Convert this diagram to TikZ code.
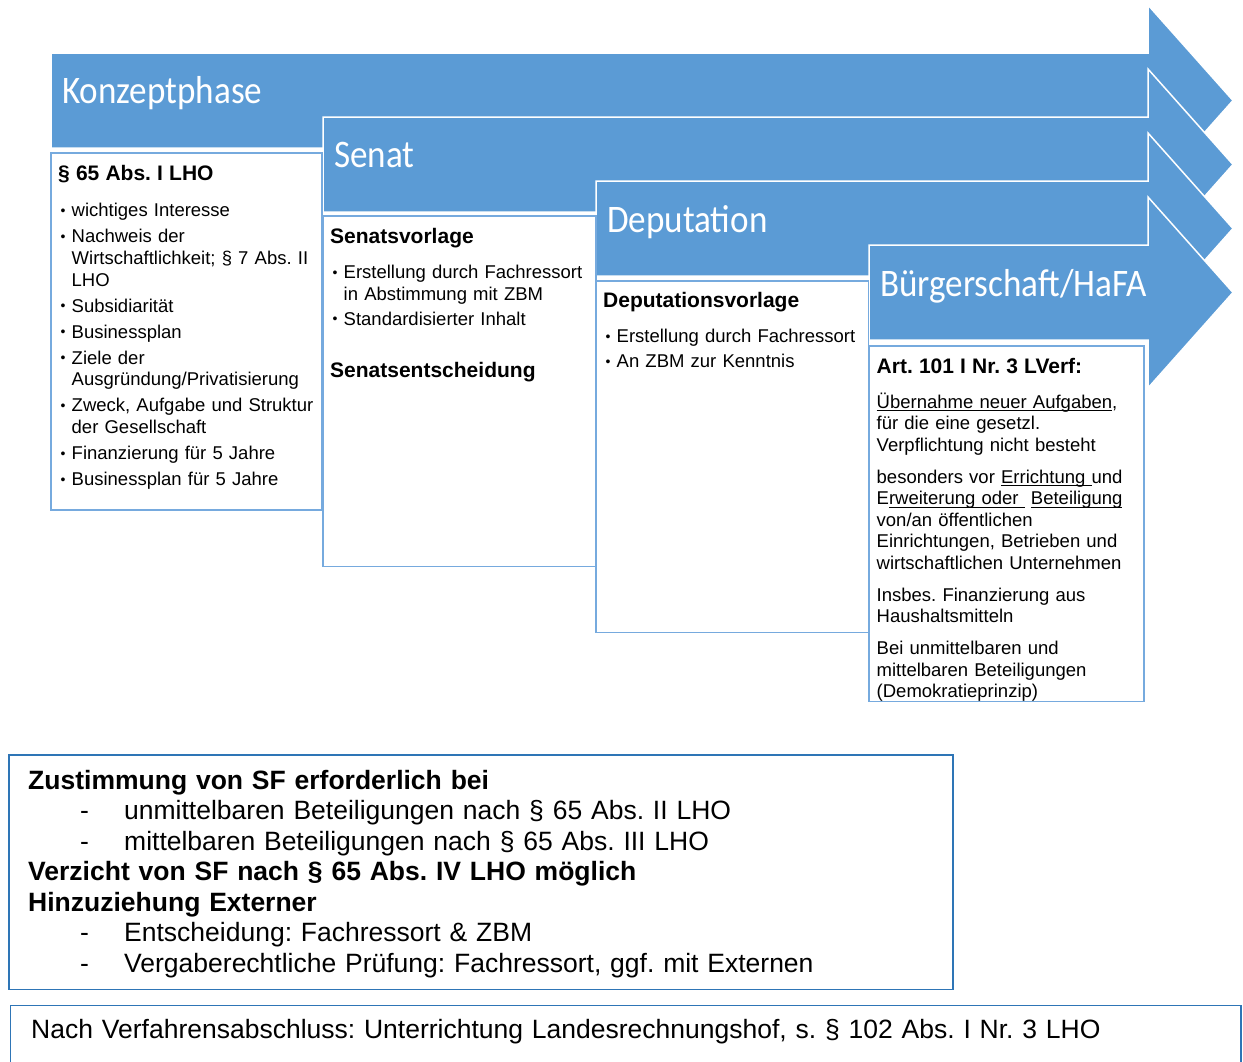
\documentclass[tikz,border=0pt]{standalone}
\usepackage{fontspec}
\setmainfont{Liberation Sans}
\newfontfamily\titlefont[FakeStretch=0.9]{Carlito}
\AtBeginDocument{\frenchspacing}
\definecolor{arrowblue}{RGB}{91,155,213}
\definecolor{boxblue}{RGB}{118,170,222}
\definecolor{frameblue}{RGB}{46,117,182}
\newlength\itemgap
\setlength\itemgap{3.5pt}
\newcommand\nl{\hfil\break}
\newcommand\bhead[1]{\noindent{\bfseries\fontsize{21}{21.5}\selectfont #1\par}\vspace{10pt}}
\newcommand\bheadafter[1]{\par\vspace{31pt}\noindent{\bfseries\fontsize{21}{21.5}\selectfont #1\par}}
\newcommand\bitem[1]{\par\vspace{\itemgap}\hangindent=13.5pt\hangafter=1\noindent\hbox to 13.5pt{\kern2.5pt\raisebox{1.5pt}{\fontsize{14}{14}\selectfont •}\hfil}#1\par}
\newcommand\bpar[1]{\par\vspace{10.5pt}\noindent #1\par}
\newcommand\ulx[1]{\setbox0\hbox{#1}\rlap{\rule[-2.8pt]{\wd0}{0.7pt}}\box0}
\newcommand\dashline[1]{\par\noindent\hbox to 96pt{\hskip52pt-\hfil}#1}
\tikzset{
  phase/.style={fill=arrowblue, draw=white, line width=1.5pt, line join=miter},
  phasetitle/.style={anchor=base west, inner sep=0pt, text=white, font=\titlefont\fontsize{39}{39}\selectfont},
  infobox/.style={draw=boxblue, line width=1.3pt},
  framebox/.style={draw=frameblue, line width=1.6pt},
  boxtext/.style={anchor=base west, inner sep=0pt, text width=#1, font=\frenchspacing\fontsize{18.5}{21.5}\selectfont},
  bigtext/.style={anchor=base west, inner sep=0pt, text width=#1, font=\frenchspacing\fontsize{26.5}{30.5}\selectfont}
}
\begin{document}
\begin{tikzpicture}[x=1pt,y=-1pt]
\useasboundingbox (0,0) rectangle (1243,1061);
% phase arrows
\draw[phase] (51,53) -- (1148,53) -- (1148,5) -- (1233,100.5) -- (1148,196) -- (1148,148) -- (51,148) -- cycle;
\draw[phase] (323,117) -- (1148,117) -- (1148,69) -- (1233,164.5) -- (1148,260) -- (1148,212) -- (323,212) -- cycle;
\draw[phase] (596,181) -- (1148,181) -- (1148,133) -- (1233,228.5) -- (1148,324) -- (1148,276) -- (596,276) -- cycle;
\draw[phase] (869,245) -- (1148,245) -- (1148,197) -- (1233,292.5) -- (1148,388) -- (1148,340) -- (869,340) -- cycle;
\node[phasetitle] (t1) at (62,103) {Konzeptphase};
\node[phasetitle] (t2) at (334,167) {Senat};
\node[phasetitle] (t3) at (607,232) {Deputation};
\node[phasetitle] (t4) at (880,296) {Bürgerschaft/HaFA};
% boxes
\draw[infobox] (51,153) rectangle (322,510);
\draw[infobox] (323,216) rectangle (596,566.5);
\draw[infobox] (596,281) rectangle (868.5,632.5);
\draw[infobox] (869,346) rectangle (1144,701.5);
\node[boxtext=300pt] (b1) at (58,180.7) {\setlength\itemgap{4.3pt}\fontsize{18.5}{21.7}\selectfont\bhead{§ 65 Abs. I LHO}%
\bitem{wichtiges Interesse}%
\bitem{Nachweis der\nl Wirtschaftlichkeit; § 7 Abs. II\nl LHO}%
\bitem{Subsidiarität}%
\bitem{Businessplan}%
\bitem{Ziele der\nl Ausgründung/Privatisierung}%
\bitem{Zweck, Aufgabe und Struktur\nl der Gesellschaft}%
\bitem{Finanzierung für 5 Jahre}%
\bitem{Businessplan für 5 Jahre}};
\node[boxtext=300pt] (b2) at (330,243.5) {\bhead{Senatsvorlage}%
\bitem{Erstellung durch Fachressort\nl in Abstimmung mit ZBM}%
\bitem{Standardisierter Inhalt}%
\bheadafter{Senatsentscheidung}};
\node[boxtext=300pt] (b3) at (603,307.5) {\bhead{Deputationsvorlage}%
\bitem{Erstellung durch Fachressort}%
\bitem{An ZBM zur Kenntnis}};
\node[boxtext=300pt] (b4) at (876.5,373.3) {\noindent{\bfseries\fontsize{21}{21.5}\selectfont Art. 101 I Nr. 3 LVerf:\par}\vspace{13.5pt}%
\noindent\ulx{Übernahme neuer Aufgaben},\nl für die eine gesetzl.\nl Verpflichtung nicht besteht\par
\bpar{besonders vor \ulx{Errichtung\ }und\nl E\ulx{rweiterung oder\ }\ \ulx{Beteiligung}\nl von/an öffentlichen\nl Einrichtungen, Betrieben und\nl wirtschaftlichen Unternehmen}%
\bpar{Insbes. Finanzierung aus\nl Haushaltsmitteln}%
\bpar{Bei unmittelbaren und\nl mittelbaren Beteiligungen\nl (Demokratieprinzip)}};
% bottom boxes
\draw[framebox] (9,755) rectangle (953,989.5);
\draw[framebox] (10.5,1005.5) rectangle (1241,1064);
\node[bigtext=920pt] (z) at (28,789.3) {\noindent\textbf{Zustimmung von SF erforderlich bei}%
\dashline{unmittelbaren Beteiligungen nach § 65 Abs. II LHO}%
\dashline{mittelbaren Beteiligungen nach § 65 Abs. III LHO}%
\par\noindent\textbf{Verzicht von SF nach § 65 Abs. IV LHO möglich}%
\par\noindent\textbf{Hinzuziehung Externer}%
\dashline{Entscheidung: Fachressort \& ZBM}%
\dashline{Vergaberechtliche Prüfung: Fachressort, ggf. mit Externen}};
\node[bigtext=1200pt] (n) at (31,1038.3) {Nach Verfahrensabschluss: Unterrichtung Landesrechnungshof, s. § 102 Abs. I Nr. 3 LHO};
\end{tikzpicture}
\end{document}
